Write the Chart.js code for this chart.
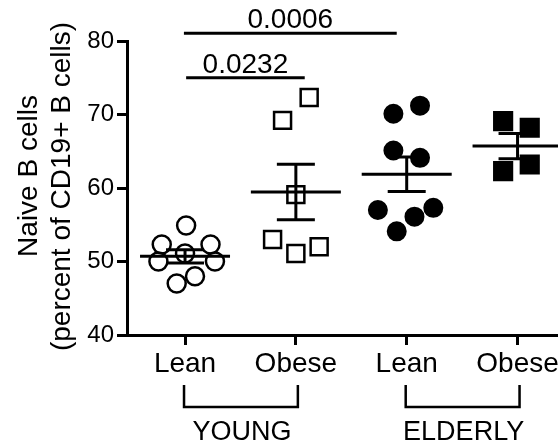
<!DOCTYPE html>
<html>
<head>
<meta charset="utf-8">
<script src="https://cdn.jsdelivr.net/npm/chart.js@4/dist/chart.umd.min.js"></script>
<style>
  html, body { margin: 0; padding: 0; background: #fff; }
  #wrap { width: 558px; height: 443px; }
</style>
</head>
<body>
<div id="wrap"><canvas id="naiveChart" width="558" height="443"></canvas></div>
<script>
// ==== data ====
const groupLabels = ["Lean", "Obese", "Lean", "Obese"];
const ageLabels = ["YOUNG", "ELDERLY"];
const ageFrom = [0, 2];
const ageTo = [1, 3];

const youngLean    = [54.9, 52.3, 52.3, 51.1, 50.0, 50.0, 48.0, 47.0];
const youngLeanX   = [0.01, -0.21, 0.23, 0.0, -0.24, 0.27, 0.09, -0.075];
const youngObese   = [72.3, 69.2, 59.1, 53.0, 51.1, 52.0];
const youngObeseX  = [0.12, -0.12, 0.0, -0.21, 0.0, 0.21];
const elderLean    = [70.1, 71.2, 65.1, 64.1, 57.0, 56.1, 57.3, 54.1];
const elderLeanX   = [-0.12, 0.12, -0.12, 0.12, -0.26, 0.07, 0.24, -0.09];
const elderObese   = [69.1, 68.2, 62.3, 63.2];
const elderObeseX  = [-0.13, 0.11, -0.13, 0.11];

const yTicks = [40, 50, 60, 70, 80];

// p-value bars
const sigLabels = ["0.0006", "0.0232"];
const sigFrom = [-0.01, 0.01];
const sigTo = [1.91, 1.08];
const sigY = [81.05, 75.0];

const yTitle = ["Naive B cells", "(percent of CD19+ B cells)"];

const FONT = '"Liberation Sans", Arial, Helvetica, sans-serif';
Chart.defaults.font.family = FONT;
Chart.defaults.color = "#000";

const seriesValues = [youngLean, youngObese, elderLean, elderObese];

function mean(a) { return a.reduce((s, v) => s + v, 0) / a.length; }
function sem(a) {
  const m = mean(a);
  const sd = Math.sqrt(a.reduce((s, v) => s + (v - m) * (v - m), 0) / (a.length - 1));
  return sd / Math.sqrt(a.length);
}
function toPoints(vals, xs, i) {
  return vals.map((v, k) => ({ x: i + xs[k], y: v }));
}

function seg(ctx, x1, y1, x2, y2) {
  ctx.beginPath();
  ctx.moveTo(x1, y1);
  ctx.lineTo(x2, y2);
  ctx.stroke();
}

// mean + SEM under the points, annotations on top
const groupMarks = {
  id: "groupMarks",
  beforeDatasetsDraw(chart) {
    const { ctx, scales: { x, y } } = chart;
    ctx.save();
    ctx.strokeStyle = "#000";
    ctx.lineWidth = 3;
    seriesValues.forEach((vals, i) => {
      const m = mean(vals), e = sem(vals);
      const cx = x.getPixelForValue(i);
      const ym = y.getPixelForValue(m);
      const yHi = y.getPixelForValue(m + e);
      const yLo = y.getPixelForValue(m - e);
      seg(ctx, cx - 45, ym, cx + 45, ym);
      seg(ctx, cx, yHi, cx, yLo);
      seg(ctx, cx - 19, yHi, cx + 19, yHi);
      seg(ctx, cx - 19, yLo, cx + 19, yLo);
    });
    ctx.restore();
  },
  afterDraw(chart) {
    const { ctx, scales: { x, y }, chartArea } = chart;
    ctx.save();
    ctx.strokeStyle = "#000";
    ctx.fillStyle = "#000";

    // p-values
    ctx.lineWidth = 3;
    ctx.font = "28px " + FONT;
    ctx.textAlign = "center";
    ctx.textBaseline = "alphabetic";
    sigLabels.forEach((lab, i) => {
      const x1 = x.getPixelForValue(sigFrom[i]);
      const x2 = x.getPixelForValue(sigTo[i]);
      const yy = y.getPixelForValue(sigY[i]);
      seg(ctx, x1, yy, x2, yy);
      ctx.fillText(lab, (x1 + x2) / 2, yy - 5);
    });

    // age group brackets
    ctx.lineWidth = 2.5;
    ctx.font = "27px " + FONT;
    const top = chartArea.bottom + 50, bot = chartArea.bottom + 72;
    ageLabels.forEach((lab, i) => {
      const x1 = x.getPixelForValue(ageFrom[i]) - 1;
      const x2 = x.getPixelForValue(ageTo[i]) + 2;
      ctx.beginPath();
      ctx.moveTo(x1, top);
      ctx.lineTo(x1, bot);
      ctx.lineTo(x2, bot);
      ctx.lineTo(x2, top);
      ctx.stroke();
      ctx.fillText(lab, (x1 + x2) / 2 + 1, chartArea.bottom + 105);
    });

    // y-axis title
    ctx.font = "28px " + FONT;
    ctx.rotate(-Math.PI / 2);
    ctx.fillText(yTitle[0], -176, 37);
    ctx.fillText(yTitle[1], -186.5, 70);
    ctx.restore();
  }
};

const ctx = document.getElementById("naiveChart").getContext("2d");
new Chart(ctx, {
  type: "scatter",
  data: {
    datasets: [
      { data: toPoints(youngLean, youngLeanX, 0), pointStyle: "circle", pointRadius: 9, borderWidth: 2.5,
        borderColor: "#000", backgroundColor: "rgba(0,0,0,0)" },
      { data: toPoints(youngObese, youngObeseX, 1), pointStyle: "rect", pointRadius: 12, borderWidth: 2.5,
        borderColor: "#000", backgroundColor: "rgba(0,0,0,0)" },
      { data: toPoints(elderLean, elderLeanX, 2), pointStyle: "circle", pointRadius: 9, borderWidth: 2,
        borderColor: "#000", backgroundColor: "#000" },
      { data: toPoints(elderObese, elderObeseX, 3), pointStyle: "rect", pointRadius: 12.5, borderWidth: 2.5,
        borderColor: "#000", backgroundColor: "#000" }
    ]
  },
  options: {
    responsive: false,
    animation: false,
    devicePixelRatio: 1,
    events: [],
    layout: { autoPadding: false, padding: { top: 41, left: 0, right: 0, bottom: 0 } },
    plugins: { legend: { display: false }, tooltip: { enabled: false } },
    scales: {
      x: {
        type: "linear",
        min: -0.5235,
        max: 3.365,
        afterBuildTicks: s => { s.ticks = groupLabels.map((_, i) => ({ value: i })); },
        afterFit: s => { s.height = 108; s.paddingLeft = 0; s.paddingRight = 0; },
        ticks: {
          callback: v => groupLabels[v] ?? "",
          font: { size: 28 },
          color: "#000",
          padding: 2,
          maxRotation: 0,
          autoSkip: false
        },
        grid: { drawOnChartArea: false, drawTicks: true, tickLength: 10, tickWidth: 3, tickColor: "#000" },
        border: { display: true, color: "#000", width: 3 }
      },
      y: {
        min: 40,
        max: 80,
        afterBuildTicks: s => { s.ticks = yTicks.map(v => ({ value: v })); },
        afterFit: s => { s.width = 127; },
        ticks: { font: { size: 24 }, color: "#000", padding: 3 },
        grid: { drawOnChartArea: false, drawTicks: true, tickLength: 10, tickWidth: 3, tickColor: "#000" },
        border: { display: true, color: "#000", width: 3 }
      }
    }
  },
  plugins: [groupMarks]
});
</script>
</body>
</html>
